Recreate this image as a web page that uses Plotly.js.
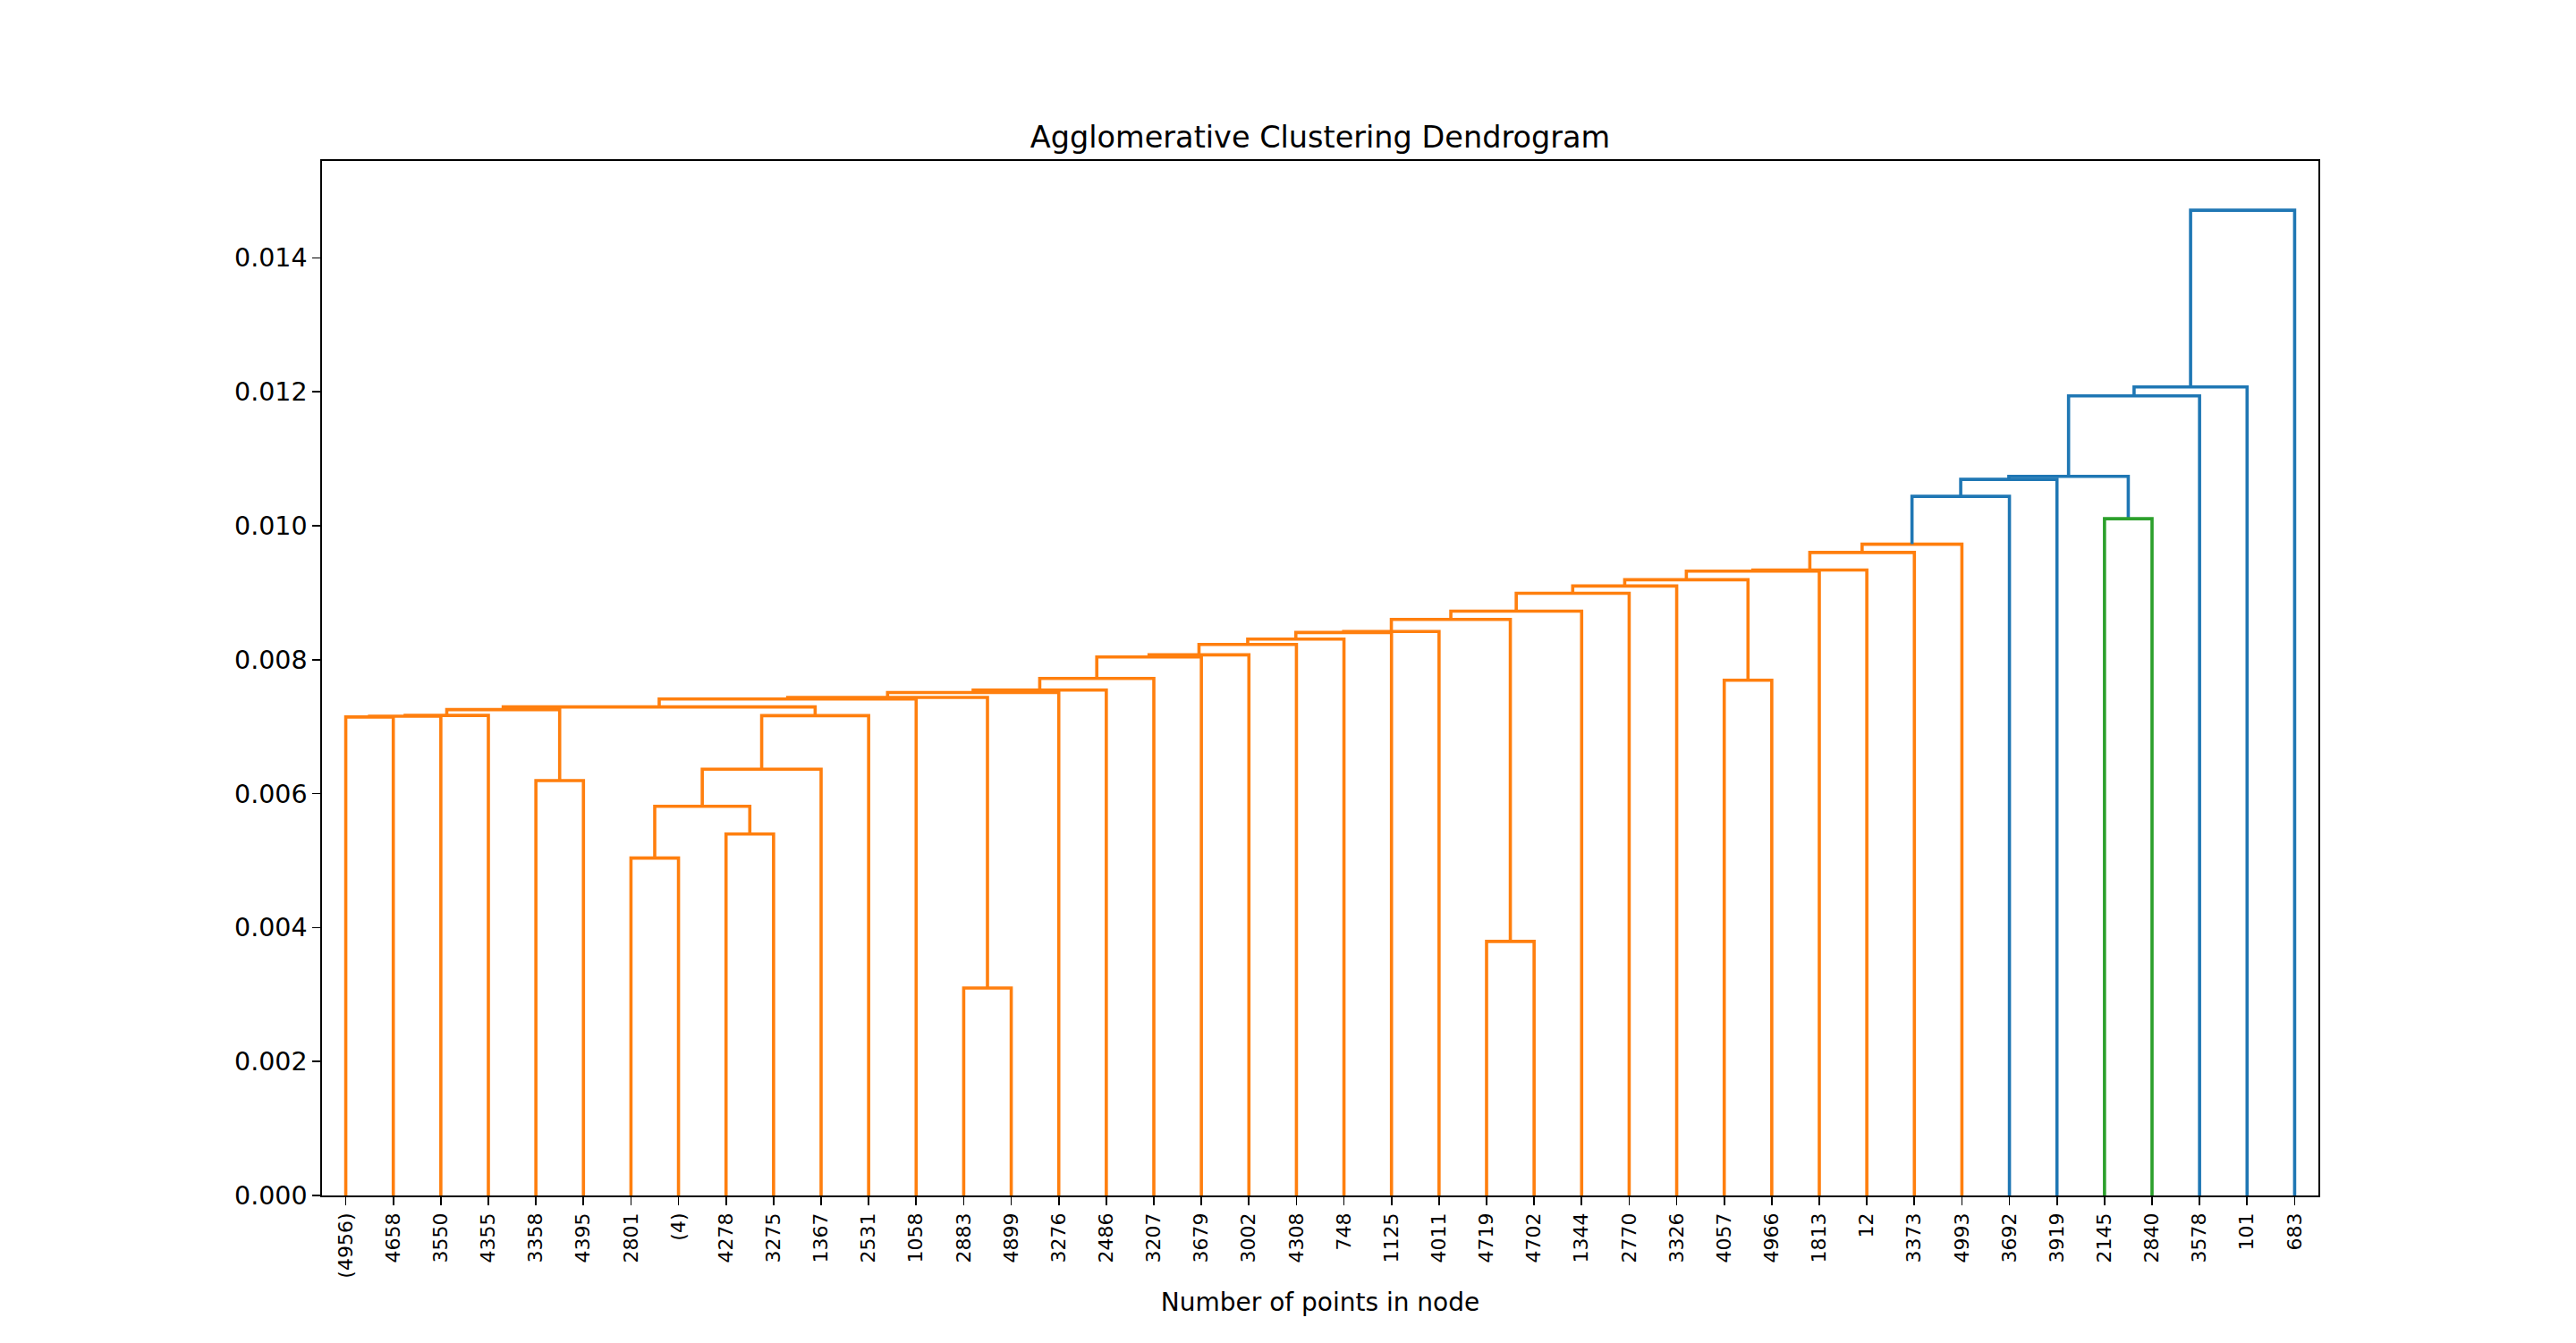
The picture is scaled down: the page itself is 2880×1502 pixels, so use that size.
<!DOCTYPE html>
<html>
<head>
<meta charset="utf-8">
<script src="https://cdn.plot.ly/plotly-3.0.1.min.js"></script>
<style>
  html, body { margin: 0; padding: 0; background: #fff; }
  #chart { width: 2880px; height: 1502px; }
</style>
</head>
<body>
<div id="chart"></div>
<script>
// leaf labels, left to right
var leafLabels = ['(4956)', '4658', '3550', '4355', '3358', '4395', '2801', '(4)', '4278', '3275',
  '1367', '2531', '1058', '2883', '4899', '3276', '2486', '3207', '3679', '3002',
  '4308', '748', '1125', '4011', '4719', '4702', '1344', '2770', '3326', '4057',
  '4966', '1813', '12', '3373', '4993', '3692', '3919', '2145', '2840', '3578',
  '101', '683'];

// merges: node ids 0..41 are leaves, merge k creates node 42+k
var mergeLeft = [0, 42, 43, 4, 44, 6, 8, 47, 49, 50,
  46, 52, 13, 53, 55, 56, 57, 58, 59, 60,
  61, 62, 63, 24, 64, 66, 67, 68, 29, 69,
  71, 72, 73, 74, 75, 76, 37, 77, 79, 80, 81];
var mergeRight = [1, 2, 3, 5, 45, 7, 9, 48, 10, 11,
  51, 12, 14, 54, 15, 16, 17, 18, 19, 20,
  21, 22, 23, 25, 65, 26, 27, 28, 30, 70,
  31, 32, 33, 34, 35, 36, 38, 78, 39, 40, 41];
var mergeHeight = [0.007145, 0.007157, 0.007168, 0.006195, 0.007255, 0.005039, 0.005397, 0.005811, 0.006365, 0.007165,
  0.007295, 0.007413, 0.003097, 0.007437, 0.007511, 0.007546, 0.007720, 0.008040, 0.008072, 0.008227,
  0.008307, 0.008406, 0.008422, 0.003794, 0.008601, 0.008726, 0.008993, 0.009100, 0.007693, 0.009194,
  0.009322, 0.009340, 0.009602, 0.009725, 0.010439, 0.010693, 0.010106, 0.010737, 0.011939, 0.012073, 0.014712];

var nLeaves = leafLabels.length;
var palette = ['#ff7f0e', '#2ca02c', '#d62728', '#9467bd'];
var aboveColor = '#1f77b4';

var nodeX = [], nodeH = [];
for (var i = 0; i < nLeaves; i++) { nodeX.push(5 + 10 * i); nodeH.push(0); }
for (var k = 0; k < mergeHeight.length; k++) {
  nodeX.push((nodeX[mergeLeft[k]] + nodeX[mergeRight[k]]) / 2);
  nodeH.push(mergeHeight[k]);
}

var maxH = Math.max.apply(null, mergeHeight);
var threshold = 0.7 * maxH;

// colour each merge like scipy does
var mergeColor = [];
var nextColor = 0;
function paint(node, col) {
  if (node < nLeaves) return;
  var k = node - nLeaves;
  var c = col;
  if (c === null) {
    if (mergeHeight[k] < threshold) { c = palette[nextColor % palette.length]; nextColor++; }
  }
  mergeColor[k] = c === null ? aboveColor : c;
  paint(mergeLeft[k], c);
  paint(mergeRight[k], c);
}
paint(nLeaves + mergeHeight.length - 1, null);

var byColor = {};
var order = [];
for (var k = 0; k < mergeHeight.length; k++) {
  var col = mergeColor[k];
  if (!byColor[col]) { byColor[col] = {x: [], y: []}; order.push(col); }
  var l = mergeLeft[k], r = mergeRight[k];
  byColor[col].x.push(nodeX[l], nodeX[l], nodeX[r], nodeX[r], null);
  byColor[col].y.push(nodeH[l], mergeHeight[k], mergeHeight[k], nodeH[r], null);
}

var data = order.map(function (col) {
  return {
    x: byColor[col].x, y: byColor[col].y,
    mode: 'lines', type: 'scatter',
    line: {color: col, width: 3.6},
    hoverinfo: 'skip', showlegend: false
  };
});

var tickPos = leafLabels.map(function (_, i) { return 5 + 10 * i; });

var layout = {
  width: 2880, height: 1502,
  margin: {l: 360, r: 288, t: 180, b: 165},
  paper_bgcolor: '#fff', plot_bgcolor: '#fff',
  font: {family: 'DejaVu Sans', color: '#000'},
  title: {
    text: 'Agglomerative Clustering Dendrogram',
    font: {family: 'DejaVu Sans', size: 33.5, color: '#000'},
    x: 0.5, xref: 'paper', xanchor: 'center',
    y: 1, yref: 'paper', yanchor: 'bottom',
    pad: {b: 15}
  },
  xaxis: {
    range: [0, 10 * nLeaves],
    tickmode: 'array', tickvals: tickPos, ticktext: leafLabels,
    tickangle: -90, tickfont: {size: 22, family: 'DejaVu Sans'},
    ticks: 'outside', ticklen: 9, tickwidth: 1.7, tickcolor: '#000',
    showline: true, mirror: true, linecolor: '#000', linewidth: 1.7,
    showgrid: false, zeroline: false,
    title: {text: 'Number of points in node', font: {size: 28, family: 'DejaVu Sans'}, standoff: 18}
  },
  yaxis: {
    range: [0, maxH * 1.05],
    tick0: 0, dtick: 0.002, tickformat: '.3f',
    tickfont: {size: 28.5, family: 'DejaVu Sans'},
    ticks: 'outside', ticklen: 9, tickwidth: 1.7, tickcolor: '#000',
    showline: true, mirror: true, linecolor: '#000', linewidth: 1.7,
    showgrid: false, zeroline: false
  }
};

Plotly.newPlot('chart', data, layout, {displayModeBar: false, staticPlot: true});
</script>
</body>
</html>
